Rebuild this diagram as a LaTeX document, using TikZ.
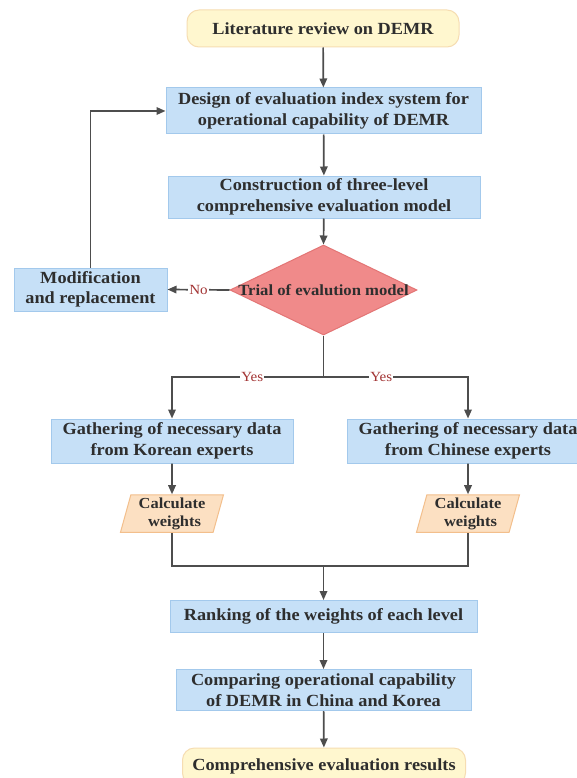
\documentclass[tikz,border=0pt]{standalone}
\usepackage{fontspec}
\setmainfont{Liberation Serif}[FakeStretch=1.075]
\usetikzlibrary{shapes.geometric,arrows.meta}
\definecolor{bluefill}{HTML}{C6E0F7}
\definecolor{blueline}{HTML}{A3C9EC}
\definecolor{yelfill}{HTML}{FFF7CF}
\definecolor{yelline}{HTML}{F6DDB2}
\definecolor{redfill}{HTML}{F08A8A}
\definecolor{redline}{HTML}{E37575}
\definecolor{orfill}{HTML}{FCE0C2}
\definecolor{orline}{HTML}{F3BF8C}
\definecolor{arrcol}{HTML}{4D4D4D}
\definecolor{txtcol}{HTML}{2E2E2E}
\definecolor{lblcol}{HTML}{A33535}
\tikzset{
  base/.style={inner sep=0pt, align=center, text=txtcol,
    font=\fontsize{17}{20.5}\selectfont\bfseries, line width=1pt},
  bluebox/.style={base, rectangle, fill=bluefill, draw=blueline},
  yelbox/.style={base, rectangle, rounded corners=12pt, fill=yelfill, draw=yelline},
  decbox/.style={base, diamond, fill=redfill, draw=redline},
  dectext/.style={base, font=\fontsize{15.5}{18}\selectfont\bfseries},
  iobox/.style={base, trapezium, trapezium left angle=72, trapezium right angle=108,
    trapezium stretches body, fill=orfill, draw=orline,
    font=\fontsize{15.3}{18}\selectfont\bfseries},
  arr/.style={draw=arrcol, line width=1.7pt, -{Triangle[length=9pt,width=7.5pt]}},
  ln/.style={draw=arrcol, line width=1.7pt},
  lbl/.style={fill=white, inner sep=1pt, text=lblcol, font=\fontsize{14}{16}\selectfont}
}
\begin{document}
\begin{tikzpicture}[x=1pt,y=-1pt]
\useasboundingbox (0,0) rectangle (577,778);
\clip (0,0) rectangle (577,778);
\fill[white] (0,0) rectangle (577,778);
\node[yelbox, minimum width=272pt, minimum height=37pt] (lit) at (323,28.5) {Literature review on DEMR};
\node[bluebox, minimum width=315pt, minimum height=46pt] (design) at (323.5,111) {Design of evaluation index system for\\operational capability of DEMR};
\node[bluebox, minimum width=312pt, minimum height=42pt] (constr) at (324,197) {Construction of three-level\\comprehensive evaluation model};
\node[decbox, minimum width=187pt, minimum height=90pt] (trial) at (323.5,290) {};
\node[dectext] (trialtxt) at (trial.center) {Trial of evalution model};
\node[bluebox, minimum width=153pt, minimum height=43pt] (mod) at (90.5,289.5) {Modification\\and replacement};
\node[bluebox, minimum width=242pt, minimum height=44pt] (kor) at (172,441) {Gathering of necessary data\\from Korean experts};
\node[bluebox, minimum width=242pt, minimum height=44pt] (chi) at (468,441) {Gathering of necessary data\\from Chinese experts};
\node[iobox, minimum width=103pt, minimum height=37.5pt] (calc1) at (172,513.5) {Calculate\\\hspace*{5pt}weights};
\node[iobox, minimum width=103pt, minimum height=37.5pt] (calc2) at (468,513.5) {Calculate\\\hspace*{5pt}weights};
\node[bluebox, minimum width=307pt, minimum height=32pt] (rank) at (323.5,616.5) {Ranking of the weights of each level};
\node[bluebox, minimum width=295pt, minimum height=41pt] (comp) at (323.5,690) {Comparing operational capability\\of DEMR in China and Korea};
\node[yelbox, minimum width=283pt, minimum height=37pt] (res) at (324,766.5) {Comprehensive evaluation results};
\coordinate (split) at (323.5,377);
\coordinate (join) at (323.5,566);
\draw[arr] (lit) -- (design);
\draw[arr] (design) -- (constr);
\draw[arr] (constr) -- (trial.north);
\draw[arr] (trial.west) -- node[lbl, pos=0.5] {No} (mod.east);
\draw[arr] (mod.north) |- (design.west);
\draw[ln] (trial.south) -- (split);
\draw[arr] (split) -- node[lbl, pos=0.47] {Yes} (split -| kor.north) -- (kor.north);
\draw[arr] (split) -- node[lbl, pos=0.40] {Yes} (split -| chi.north) -- (chi.north);
\draw[arr] (kor) -- (calc1);
\draw[arr] (chi) -- (calc2);
\draw[ln] (calc1.south) |- (join) -| (calc2.south);
\draw[arr] (join) -- (rank);
\draw[arr] (rank) -- (comp);
\draw[arr] (comp) -- (res);
\end{tikzpicture}
\end{document}
